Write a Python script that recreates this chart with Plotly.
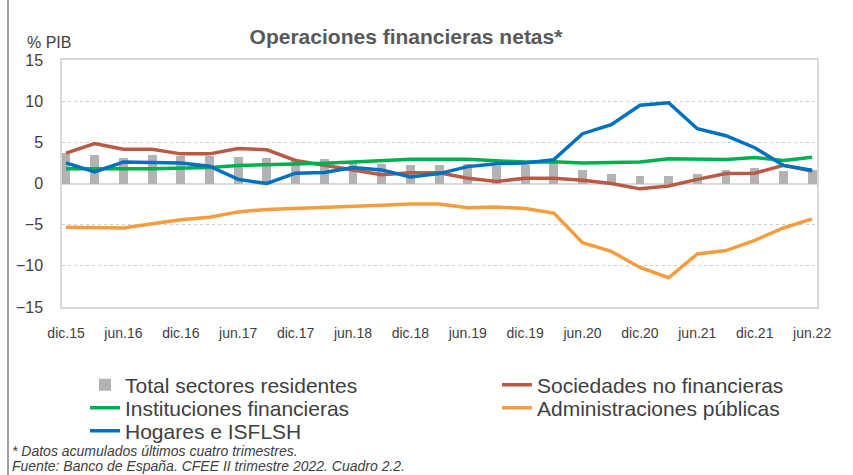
import plotly.graph_objects as go

# Quarterly periods (dic.15 ... jun.22)
periodos = ["dic.15", "mar.16", "jun.16", "sep.16", "dic.16", "mar.17", "jun.17", "sep.17",
            "dic.17", "mar.18", "jun.18", "sep.18", "dic.18", "mar.19", "jun.19", "sep.19",
            "dic.19", "mar.20", "jun.20", "sep.20", "dic.20", "mar.21", "jun.21", "sep.21",
            "dic.21", "mar.22", "jun.22"]
tick_labels = ["dic.15", "jun.16", "dic.16", "jun.17", "dic.17", "jun.18", "dic.18",
               "jun.19", "dic.19", "jun.20", "dic.20", "jun.21", "dic.21", "jun.22"]

total_sectores = [3.7, 3.45, 3.1, 3.45, 3.4, 3.4, 3.2, 3.1, 2.8, 3.0, 2.7, 2.35, 2.2, 2.2,
                  2.35, 2.15, 2.25, 2.45, 1.7, 1.1, 0.97, 0.97, 1.1, 1.7, 1.85, 1.55, 1.6]
sociedades = [3.7, 4.85, 4.15, 4.15, 3.6, 3.6, 4.25, 4.1, 2.8, 2.2, 1.55, 1.05, 1.3, 1.3,
              0.65, 0.25, 0.65, 0.65, 0.4, 0.0, -0.65, -0.3, 0.5, 1.2, 1.25, 2.2, 1.5]
instituciones = [1.8, 1.85, 1.8, 1.8, 1.9, 1.95, 2.2, 2.25, 2.35, 2.45, 2.6, 2.8, 2.95, 2.95,
                 2.95, 2.75, 2.6, 2.65, 2.5, 2.55, 2.6, 3.0, 2.9, 2.9, 3.15, 2.8, 3.2]
administraciones = [-5.3, -5.3, -5.4, -4.9, -4.4, -4.1, -3.45, -3.15, -3.05, -2.9, -2.8, -2.65,
                    -2.5, -2.5, -2.95, -2.85, -3.05, -3.6, -7.2, -8.25, -10.2, -11.45, -8.55,
                    -8.15, -6.9, -5.4, -4.3]
hogares = [2.5, 1.4, 2.6, 2.5, 2.5, 2.1, 0.5, 0.0, 1.25, 1.35, 1.95, 1.65, 0.8, 1.2, 2.05,
           2.4, 2.5, 2.9, 6.05, 7.15, 9.5, 9.8, 6.65, 5.8, 4.35, 2.2, 1.6]

x = list(range(len(periodos)))
tickvals = [periodos.index(t) for t in tick_labels]

fig = go.Figure()
fig.add_trace(go.Bar(x=x, y=total_sectores, name="Total sectores residentes",
                     marker=dict(color="#b3b3b3", line=dict(width=0)), width=0.31,
                     legend="legend", showlegend=True))
fig.add_trace(go.Scatter(x=x, y=sociedades, name="Sociedades no financieras", mode="lines",
                         line=dict(color="#B85A45", width=3.5), legend="legend2"))
fig.add_trace(go.Scatter(x=x, y=instituciones, name="Instituciones financieras", mode="lines",
                         line=dict(color="#00B050", width=3.5), legend="legend3"))
fig.add_trace(go.Scatter(x=x, y=administraciones, name="Administraciones públicas", mode="lines",
                         line=dict(color="#F49D3E", width=3.5), legend="legend4"))
fig.add_trace(go.Scatter(x=x, y=hogares, name="Hogares e ISFLSH", mode="lines",
                         line=dict(color="#0070C0", width=3.5), legend="legend5"))

FONT = "Liberation Sans, Arial"
leg_font = dict(family=FONT, size=21, color="#404040")

def leg(xp, yp):
    return dict(x=xp, y=yp, xanchor="left", yanchor="middle", font=leg_font,
                bgcolor="rgba(0,0,0,0)", borderwidth=0, orientation="v", visible=True)

# plot area: left 62, right 817, top 60, bottom 307
def px_x(p):
    return (p - 62) / 755.0

def px_y(p):
    return (307 - p) / 247.0

fig.update_layout(
    width=853, height=475,
    showlegend=True,
    margin=dict(l=62, r=36, t=60, b=168),
    paper_bgcolor="white", plot_bgcolor="white",
    bargap=0,
    font=dict(family=FONT, color="#404040"),
    title=dict(text="<b>Operaciones financieras netas*</b>", x=406 / 853, xanchor="center",
               y=1 - 37 / 475, yanchor="middle",
               font=dict(family=FONT, size=21, color="#595959")),
    legend=leg(px_x(85), px_y(385)),
    legend2=leg(px_x(497), px_y(385)),
    legend3=leg(px_x(85), px_y(408)),
    legend4=leg(px_x(497), px_y(408)),
    legend5=leg(px_x(85), px_y(431)),
    xaxis=dict(range=[-0.14, 26.17], tickvals=tickvals, ticktext=tick_labels,
               showgrid=False, zeroline=False, showline=True, mirror=True,
               linecolor="#d9d9d9", linewidth=1.5, ticks="",
               ticklabelstandoff=12,
               tickfont=dict(family=FONT, size=14, color="#404040")),
    yaxis=dict(range=[-15, 15], dtick=5, showgrid=True, gridcolor="#cfcfcf",
               griddash="dot", gridwidth=1, zeroline=True, zerolinecolor="#d9d9d9",
               zerolinewidth=2, showline=True, mirror=True, linecolor="#d9d9d9",
               linewidth=1.5, ticks="", ticklabelstandoff=14,
               tickfont=dict(family=FONT, size=16, color="#404040")),
    annotations=[
        dict(text="% PIB", xref="paper", yref="paper", x=px_x(25), y=px_y(43),
             xanchor="left", yanchor="middle", showarrow=False,
             font=dict(family=FONT, size=16, color="#404040")),
        dict(text="<i>* Datos acumulados últimos cuatro trimestres.</i>", xref="paper",
             yref="paper", x=px_x(10), y=px_y(451), xanchor="left", yanchor="middle",
             showarrow=False, font=dict(family=FONT, size=14, color="#404040")),
        dict(text="<i>Fuente: Banco de España. CFEE II trimestre 2022. Cuadro 2.2.</i>",
             xref="paper", yref="paper", x=px_x(10), y=px_y(466), xanchor="left",
             yanchor="middle", showarrow=False,
             font=dict(family=FONT, size=14, color="#404040")),
    ],
    shapes=[dict(type="line", xref="paper", yref="paper", x0=px_x(8), x1=px_x(8),
                 y0=px_y(0), y1=px_y(475), line=dict(color="#808080", width=1.5))],
)

fig.write_html("out.html", config={"displayModeBar": False},
               post_script="document.body.style.margin='0';document.body.style.overflow='hidden';")
